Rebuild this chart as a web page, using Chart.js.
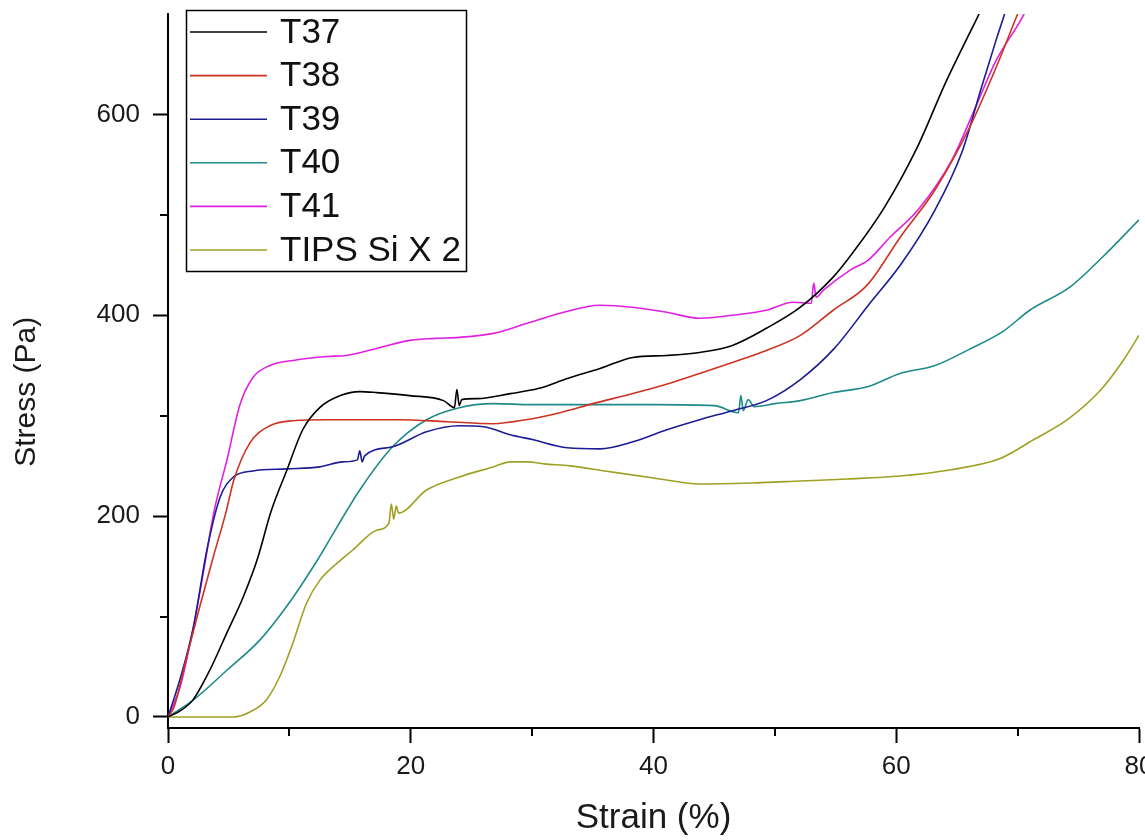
<!DOCTYPE html>
<html>
<head>
<meta charset="utf-8">
<script src="https://cdn.jsdelivr.net/npm/chart.js@4.4.0/dist/chart.umd.min.js"></script>
<style>
html,body{margin:0;padding:0;background:#fff;}
canvas{display:block;}
</style>
</head>
<body>
<canvas id="c" width="1145" height="840"></canvas>
<script>
// ---------------- data ----------------
const seriesNames = ["T37", "T38", "T39", "T40", "T41", "TIPS Si X 2"];
const seriesColors = ["#000000", "#cc3322", "#1c1c94", "#1f8a8a", "#e020e0", "#a0a024"];

const xMajorTicks = [0, 20, 40, 60, 80];
const xMinorTicks = [10, 30, 50, 70];
const yMajorTicks = [0, 200, 400, 600];
const yMinorTicks = [100, 300, 500];

const t37Strain = [0, 1, 2.06, 3.46, 4.86, 6.18, 7.33, 8.5, 9.8, 11.1, 12.5, 14.2, 15.8, 17.2, 19.9, 22.7, 23.6, 23.8, 24.0, 24.2, 25.5, 28.2, 30.5, 32.9, 35.6, 38.3, 41.1, 43.8, 46.5, 49.3, 52.1, 54.8, 56.4, 59, 61.8, 64, 66, 67, 67.6];
const t37Stress = [0, 6, 17, 47, 84, 119, 156, 205, 246, 286, 308, 320, 324, 323, 320, 315, 308, 326, 310, 316, 317, 322, 327, 337, 347, 358, 360, 363, 370, 387, 408, 438, 462, 507, 569, 630, 680, 705, 725];

const t38Strain = [0, 0.5, 1.55, 2.6, 3.7, 4.8, 5.4, 6.75, 8.4, 10.3, 13.1, 16, 19, 23, 26.8, 29.5, 32.3, 35, 38.3, 41, 43.8, 46.5, 49.3, 52.1, 54.8, 57.6, 60.4, 63.2, 66, 68.2, 69.9, 70.5];
const t38Stress = [0, 10, 60, 109, 158, 205, 235, 273, 290, 295, 296, 296, 296, 294, 292, 296, 303, 312, 322, 331, 342, 353, 365, 380, 405, 430, 479, 525, 586, 646, 697, 715];

const t39Strain = [0, 1, 2.1, 3.2, 4.3, 5.4, 7.0, 9.8, 12.5, 14.4, 15.6, 15.8, 16.0, 16.2, 18.5, 21.3, 24, 26, 28.2, 30.1, 32.9, 35.6, 38.3, 41.1, 43.8, 46.5, 49.3, 52.1, 54.9, 57.7, 60.4, 63.2, 65.4, 67, 68.2, 68.9, 69.3];
const t39Stress = [0, 38, 90, 166, 219, 239, 245, 247, 249, 254, 256, 265, 254, 260, 269, 284, 290, 289, 281, 276, 268, 267, 274, 286, 296, 305, 315, 336, 367, 410, 451, 505, 562, 626, 673, 699, 715];

const t40Strain = [0, 2.1, 4.9, 7.6, 10.3, 12.3, 12.8, 15.8, 18.5, 21.3, 24, 26.8, 30, 35, 40, 45, 47.0, 47.2, 47.4, 47.8, 48.3, 50, 52.1, 54.8, 57.7, 60.3, 63.2, 66, 68.8, 71, 74.3, 77, 80];
const t40Stress = [0, 17, 47, 77, 119, 156, 166, 226, 269, 296, 308, 312, 311, 311, 311, 310, 303, 320, 305, 316, 309, 312, 315, 323, 329, 342, 350, 366, 384, 405, 428, 458, 495];

const t41Strain = [0, 1, 2.1, 2.9, 3.8, 4.9, 5.9, 7.0, 8.4, 10.3, 13.1, 14.7, 17.2, 19.9, 22, 24, 26.8, 29.6, 32.3, 35.6, 38.3, 41.1, 43.8, 46.5, 49.3, 51.5, 53.0, 53.2, 53.4, 54, 56.2, 57.7, 59.5, 61.8, 64.6, 66.6, 68.2, 70.4, 71];
const t41Stress = [0, 30, 90, 143, 205, 258, 310, 338, 350, 355, 359, 360, 367, 375, 377, 378, 382, 392, 402, 410, 408, 403, 397, 400, 405, 413, 412, 432, 418, 425, 445, 455, 478, 505, 555, 609, 653, 697, 712];

const tipsStrain = [0, 3, 5.4, 6.75, 8.1, 9.2, 10.3, 11.4, 12.5, 14.2, 15.2, 17.2, 18.2, 18.4, 18.6, 18.8, 19.0, 21.3, 24, 26.8, 28.2, 29.6, 31, 33.1, 36, 40, 43.8, 48, 52.1, 56, 60.3, 64.4, 68.5, 71.3, 74.1, 76.8, 78.7, 80];
const tipsStress = [0, 0, 0, 5, 17, 40, 74, 113, 136, 156, 166, 186, 193, 212, 197, 210, 203, 226, 239, 249, 254, 254, 252, 250, 245, 238, 232, 233, 235, 237, 240, 246, 257, 276, 296, 325, 355, 380];

const strainSets = [t37Strain, t38Strain, t39Strain, t40Strain, t41Strain, tipsStrain];
const stressSets = [t37Stress, t38Stress, t39Stress, t40Stress, t41Stress, tipsStress];

// ---------------- chart ----------------
const FONT = "'Liberation Sans', Arial, Helvetica, sans-serif";
Chart.defaults.font.family = FONT;

const datasets = seriesNames.map((name, i) => ({
  label: name,
  data: strainSets[i].map((x, k) => ({x: x, y: stressSets[i][k]})),
  borderColor: seriesColors[i],
  backgroundColor: seriesColors[i],
  borderWidth: 1.6,
  pointRadius: 0,
  fill: false,
  cubicInterpolationMode: 'monotone'
}));

const minorTicksPlugin = {
  id: 'minorTicks',
  afterDraw(chart) {
    const {ctx, chartArea, scales} = chart;
    ctx.save();
    ctx.strokeStyle = '#000';
    ctx.lineWidth = 2;
    xMinorTicks.forEach(v => {
      const px = Math.round(scales.x.getPixelForValue(v));
      ctx.beginPath();
      ctx.moveTo(px, chartArea.bottom);
      ctx.lineTo(px, chartArea.bottom + 8);
      ctx.stroke();
    });
    yMinorTicks.forEach(v => {
      const py = Math.round(scales.y.getPixelForValue(v));
      ctx.beginPath();
      ctx.moveTo(chartArea.left - 8, py);
      ctx.lineTo(chartArea.left, py);
      ctx.stroke();
    });
    ctx.restore();
  }
};

const boxLegendPlugin = {
  id: 'boxLegend',
  afterDatasetsDraw(chart) {
    const ctx = chart.ctx;
    const {left, top} = chart.chartArea;
    const bx = left + 18, by = top - 4, bw = 280, bh = 261;
    ctx.save();
    ctx.fillStyle = '#fff';
    ctx.fillRect(bx, by, bw, bh);
    ctx.strokeStyle = '#000';
    ctx.lineWidth = 1.5;
    ctx.strokeRect(bx + 0.5, by + 0.5, bw, bh);
    ctx.font = '35px ' + FONT;
    ctx.textBaseline = 'middle';
    ctx.textAlign = 'left';
    chart.data.datasets.forEach((ds, i) => {
      const yy = by + 22 + i * 43.6;
      ctx.strokeStyle = ds.borderColor;
      ctx.lineWidth = 1.6;
      ctx.beginPath();
      ctx.moveTo(bx + 4, yy);
      ctx.lineTo(bx + 81, yy);
      ctx.stroke();
      ctx.fillStyle = '#111';
      ctx.fillText(ds.label, bx + 94, yy + 1);
    });
    ctx.restore();
  }
};

new Chart(document.getElementById('c'), {
  type: 'line',
  data: {datasets: datasets},
  options: {
    responsive: false,
    animation: false,
    devicePixelRatio: 1,
    layout: {padding: {top: 14, right: 6, left: 0, bottom: 0}},
    plugins: {
      legend: {display: false},
      tooltip: {enabled: false}
    },
    scales: {
      x: {
        type: 'linear',
        min: 0,
        max: 80,
        afterBuildTicks: s => { s.ticks = xMajorTicks.map(v => ({value: v})); },
        ticks: {font: {size: 26}, color: '#1a1a1a', padding: 8, maxRotation: 0, autoSkip: false},
        grid: {drawOnChartArea: false, drawTicks: true, tickLength: 15, tickWidth: 2, tickColor: '#000'},
        border: {display: true, color: '#000', width: 2},
        title: {display: true, text: 'Strain (%)', font: {size: 35}, color: '#1a1a1a', padding: {top: 0, bottom: 1}},
        afterFit: s => { s.height = 112; s.paddingLeft = 0; s.paddingRight = 0; }
      },
      y: {
        type: 'linear',
        min: -11,
        max: 700,
        afterBuildTicks: s => { s.ticks = yMajorTicks.map(v => ({value: v})); },
        ticks: {font: {size: 26}, color: '#1a1a1a', padding: 13, autoSkip: false},
        grid: {drawOnChartArea: false, drawTicks: true, tickLength: 15, tickWidth: 2, tickColor: '#000'},
        border: {display: true, color: '#000', width: 2},
        title: {display: true, text: 'Stress (Pa)     ', font: {size: 30}, color: '#1a1a1a', padding: {top: 9, bottom: 0}},
        afterFit: s => { s.width = 168; s.paddingTop = 0; s.paddingBottom = 0; }
      }
    }
  },
  plugins: [minorTicksPlugin, boxLegendPlugin]
});
</script>
</body>
</html>
